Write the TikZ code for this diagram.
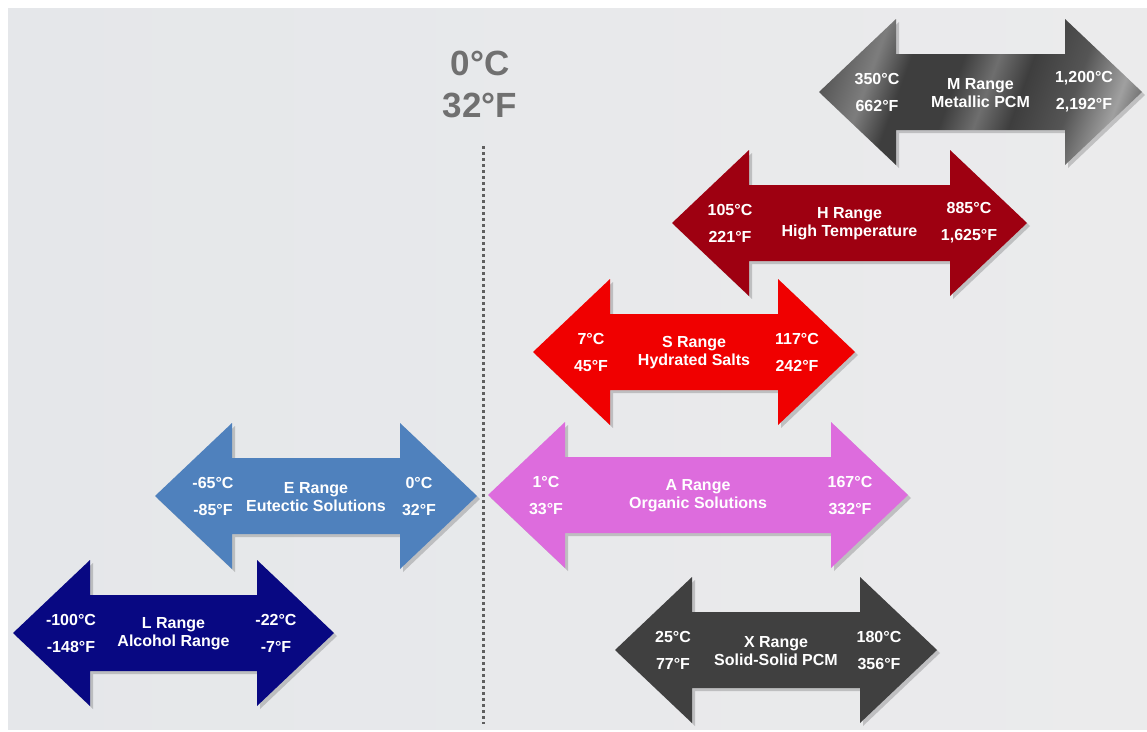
\documentclass[tikz,border=0pt]{standalone}
\usepackage{fontspec}
\setmainfont{Liberation Sans}
\usetikzlibrary{calc}
\definecolor{bgcol}{RGB}{229,231,234}
\definecolor{bgcolR}{RGB}{235,235,236}
\definecolor{zerocol}{RGB}{112,112,112}
\definecolor{dotcol}{RGB}{95,95,95}
\definecolor{hcol}{RGB}{158,0,17}
\definecolor{scol}{RGB}{240,0,0}
\definecolor{acol}{RGB}{221,108,221}
\definecolor{ecol}{RGB}{79,129,189}
\definecolor{lcol}{RGB}{8,8,130}
\definecolor{xcol}{RGB}{64,64,64}
\definecolor{mA}{RGB}{175,175,175}
\definecolor{mB}{RGB}{135,135,135}
\definecolor{mC}{RGB}{85,85,85}
\definecolor{mD}{RGB}{125,125,125}
\definecolor{mE}{RGB}{62,62,62}
\definecolor{mF}{RGB}{110,110,110}
\definecolor{mG}{RGB}{160,160,160}
\definecolor{mH}{RGB}{190,190,190}
\pgfdeclarehorizontalshading{metal}{100bp}{
 color(0bp)=(mA); color(14bp)=(mB); color(22bp)=(mC); color(30bp)=(mD);
 color(36bp)=(mE); color(45bp)=(mE); color(51bp)=(mF); color(57bp)=(mE);
 color(66bp)=(mC); color(74bp)=(mG); color(80bp)=(mC); color(88bp)=(mH);
 color(100bp)=(mF)}
\tikzset{
 val/.style={text=white,font=\fontsize{16}{27}\selectfont\bfseries,align=center,inner sep=0pt},
 ttl/.style={text=white,font=\fontsize{16}{18}\selectfont\bfseries,align=center,inner sep=0pt},
 zerolab/.style={text=zerocol,font=\fontsize{35}{40}\selectfont\bfseries,inner sep=0pt},
 dotline/.style={dotcol,line width=3pt,dash pattern=on 3pt off 3pt},
 shadowfill/.style={fill=black,opacity=0.18}
}
\newcommand\pcmArrow[8]{%
 \fill[shadowfill] ({#2+3},{#4+3}) -- ({#2+80},{#4-70}) -- ({#2+80},{#4-35}) -- ({#3-74},{#4-35}) -- ({#3-74},{#4-70}) -- ({#3+3},{#4+3}) -- ({#3-74},{#4+76}) -- ({#3-74},{#4+41}) -- ({#2+80},{#4+41}) -- ({#2+80},{#4+76}) -- cycle;
 \path[#5] (#2,#4) -- ({#2+77},{#4-73}) -- ({#2+77},{#4-38}) -- ({#3-77},{#4-38}) -- ({#3-77},{#4-73}) -- (#3,#4) -- ({#3-77},{#4+73}) -- ({#3-77},{#4+38}) -- ({#2+77},{#4+38}) -- ({#2+77},{#4+73}) -- cycle;
 \node[val] (#1-l) at ({#2+77-19},#4) {#6};
 \node[ttl] (#1-t) at ({(#2+#3)/2},{#4+1}) {#7};
 \node[val] (#1-r) at ({#3-77+19},#4) {#8};
}
\begin{document}
\begin{tikzpicture}[x=1pt,y=-1pt]
\useasboundingbox (0,0) rectangle (1147,731);
\fill[white] (0,0) rectangle (1147,731);
\shade[left color=bgcol,right color=bgcolR] (8,8) rectangle (1147,729);
% zero line
\coordinate (dtop) at (483,146);
\coordinate (dbot) at (483,724);
\draw[dotline] (dtop) -- (dbot);
\node[zerolab] (zc) at (480,63) {0°C};
\node[zerolab] (zf) at (480,105) {32°F};
% arrows
\pcmArrow{m}{819}{1142}{92}{shading=metal,shading angle=-20}{350°C\\662°F}{M Range\\Metallic PCM}{1,200°C\\2,192°F}
\pcmArrow{h}{672}{1027}{223}{fill=hcol}{105°C\\221°F}{H Range\\High Temperature}{885°C\\1,625°F}
\pcmArrow{s}{533}{855}{352}{fill=scol}{7°C\\45°F}{S Range\\Hydrated Salts}{117°C\\242°F}
\pcmArrow{a}{488}{908}{495}{fill=acol}{1°C\\33°F}{A Range\\Organic Solutions}{167°C\\332°F}
\pcmArrow{e}{155}{477}{496}{fill=ecol}{-65°C\\-85°F}{E Range\\Eutectic Solutions}{0°C\\32°F}
\pcmArrow{l}{13}{334}{633}{fill=lcol}{-100°C\\-148°F}{L Range\\Alcohol Range}{-22°C\\-7°F}
\pcmArrow{x}{615}{937}{650}{fill=xcol}{25°C\\77°F}{X Range\\Solid-Solid PCM}{180°C\\356°F}
\end{tikzpicture}
\end{document}
